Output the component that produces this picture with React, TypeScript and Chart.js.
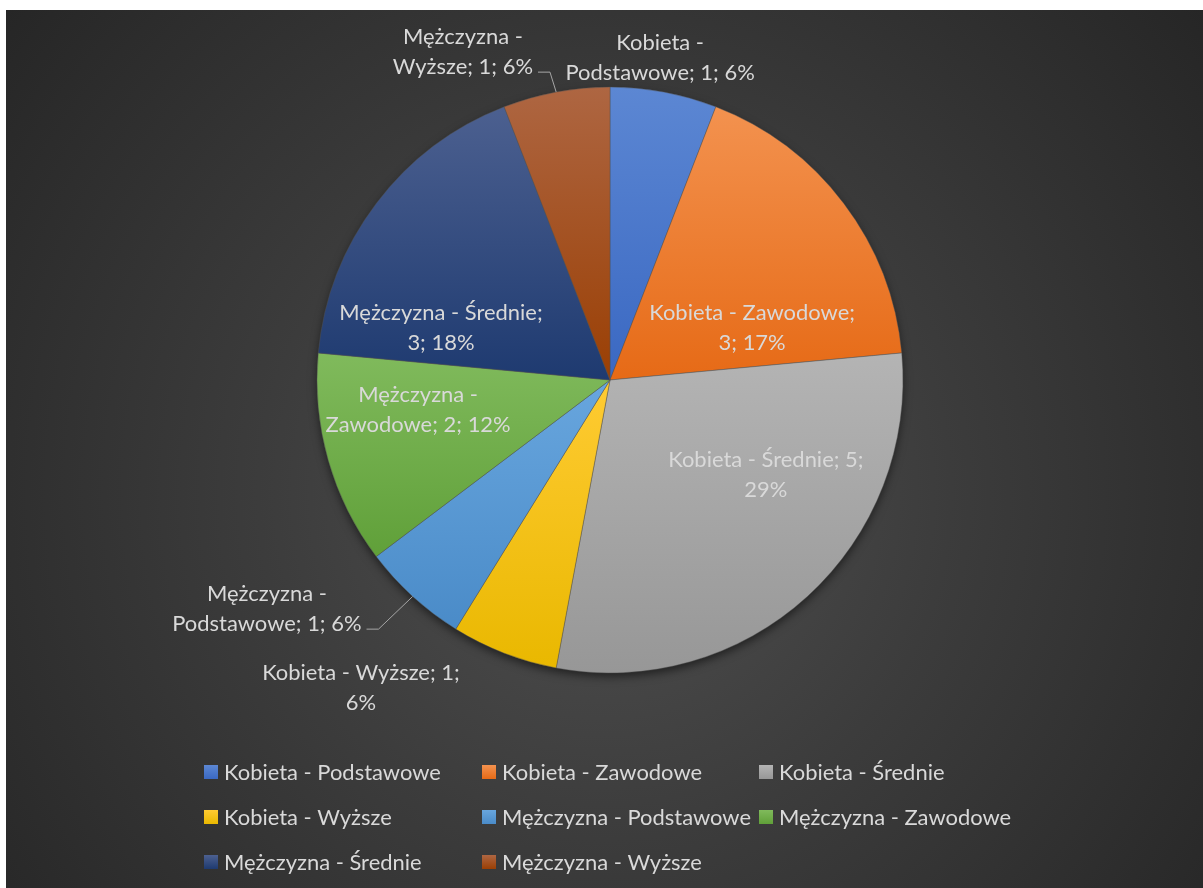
import React, { useEffect, useRef } from "react";
import { Chart, registerables } from "chart.js";

Chart.register(...registerables);

// ---------- data ----------
const categories = [
  "Kobieta - Podstawowe",
  "Kobieta - Zawodowe",
  "Kobieta - Średnie",
  "Kobieta - Wyższe",
  "Mężczyzna - Podstawowe",
  "Mężczyzna - Zawodowe",
  "Mężczyzna - Średnie",
  "Mężczyzna - Wyższe",
];
const counts = [1, 3, 5, 1, 1, 2, 3, 1];
const percents = [6, 17, 29, 6, 6, 12, 18, 6];

// ---------- styles / layout ----------
const W = 1197;
const H = 878;
const RADIUS = 293;
const FONT_FAMILY = "Lato, 'Open Sans', sans-serif";
const TEXT_COLOR = "#d9d9d9";
const LINE_H = 30;
const REF_TEXT = "Kobieta - Podstawowe";
const REF_TEXT_WIDTH = 217;

const topColors = ["#5c87d3", "#f3924f", "#b4b4b4", "#ffcb33", "#68a6de", "#80ba5c", "#4c6090", "#ae6642"];
const bottomColors = ["#3a68c2", "#e66a16", "#979797", "#e9b800", "#4a8bc8", "#60a039", "#1e3a70", "#9a3f04"];

// label block centre relative to pie centre, in units of radius
const labelOffsets: [number, number][] = [
  [0.171, -1.099],
  [0.485, -0.177],
  [0.532, 0.324],
  [-0.85, 1.051],
  [-1.171, 0.782],
  [-0.655, 0.102],
  [-0.577, -0.177],
  [-0.502, -1.119],
];
const firstLineWords = [2, 3, 4, 4, 2, 2, 3, 2];
const hasLeader = [false, false, false, false, true, false, false, true];

const legendCols = [198, 476, 753];
const legendRows = [762, 807, 852];
const LEGEND_BOX = 14;

let fontSizeCache = 0;
function fontSize(ctx: CanvasRenderingContext2D) {
  if (fontSizeCache) return fontSizeCache;
  ctx.save();
  ctx.font = `100px ${FONT_FAMILY}`;
  const w = ctx.measureText(REF_TEXT).width;
  ctx.restore();
  fontSizeCache = (100 * REF_TEXT_WIDTH) / w;
  return fontSizeCache;
}

function sliceGradient(chart: any, i: number) {
  const area = chart.chartArea;
  if (!area) return topColors[i];
  const cy = (area.top + area.bottom) / 2;
  const total = counts.reduce((a, b) => a + b, 0);
  let before = 0;
  for (let j = 0; j < i; j++) before += counts[j];
  const a0 = -Math.PI / 2 + (before / total) * Math.PI * 2;
  const a1 = a0 + (counts[i] / total) * Math.PI * 2;
  const ys = [cy, cy + RADIUS * Math.sin(a0), cy + RADIUS * Math.sin(a1)];
  const inRange = (a: number) => {
    for (let k = -2; k <= 2; k++) {
      const t = a + k * Math.PI * 2;
      if (t >= a0 && t <= a1) return true;
    }
    return false;
  };
  if (inRange(Math.PI / 2)) ys.push(cy + RADIUS);
  if (inRange(-Math.PI / 2)) ys.push(cy - RADIUS);
  const minY = Math.min(...ys);
  const maxY = Math.max(...ys);
  const g = chart.ctx.createLinearGradient(0, minY, 0, maxY);
  g.addColorStop(0, topColors[i]);
  g.addColorStop(1, bottomColors[i]);
  return g;
}

const shadowPlugin = {
  id: "pieShadow",
  beforeDatasetsDraw(chart: any) {
    const meta = chart.getDatasetMeta(0);
    const arc = meta.data[0];
    if (!arc) return;
    const { x, y, outerRadius } = arc.getProps(["x", "y", "outerRadius"], true);
    const ctx = chart.ctx;
    ctx.save();
    ctx.shadowColor = "rgba(0,0,0,0.55)";
    ctx.shadowBlur = 10;
    ctx.shadowOffsetY = 4;
    ctx.fillStyle = "#555555";
    ctx.beginPath();
    ctx.arc(x, y, outerRadius - 0.5, 0, Math.PI * 2);
    ctx.fill();
    ctx.restore();
  },
};

const labelPlugin = {
  id: "sliceLabels",
  afterDatasetsDraw(chart: any) {
    const ctx: CanvasRenderingContext2D = chart.ctx;
    const meta = chart.getDatasetMeta(0);
    const fs = fontSize(ctx);
    ctx.save();
    ctx.font = `${fs}px ${FONT_FAMILY}`;
    ctx.fillStyle = TEXT_COLOR;
    ctx.textAlign = "center";
    ctx.textBaseline = "middle";
    meta.data.forEach((arc: any, i: number) => {
      const { x, y, outerRadius, startAngle, endAngle } = arc.getProps(
        ["x", "y", "outerRadius", "startAngle", "endAngle"],
        true
      );
      const text = `${categories[i]}; ${counts[i]}; ${percents[i]}%`;
      const words = text.split(" ");
      const lines = [
        words.slice(0, firstLineWords[i]).join(" "),
        words.slice(firstLineWords[i]).join(" "),
      ];
      const cx = x + labelOffsets[i][0] * outerRadius;
      const cy = y + labelOffsets[i][1] * outerRadius;
      lines.forEach((l, k) => {
        ctx.fillText(l, cx, cy + (k - (lines.length - 1) / 2) * LINE_H);
      });
      if (hasLeader[i]) {
        const mid = (startAngle + endAngle) / 2;
        const px = x + outerRadius * Math.cos(mid);
        const py = y + outerRadius * Math.sin(mid);
        const w2 = ctx.measureText(lines[1]).width;
        const sx = cx + w2 / 2 + 5;
        const sy = cy + LINE_H / 2 + 5;
        ctx.save();
        ctx.strokeStyle = "#a6a6a6";
        ctx.lineWidth = 1;
        ctx.beginPath();
        ctx.moveTo(sx, sy);
        ctx.lineTo(sx + 12, sy);
        ctx.lineTo(px, py);
        ctx.stroke();
        ctx.restore();
      }
    });
    ctx.restore();
  },
};

const legendPlugin = {
  id: "gridLegend",
  afterDraw(chart: any) {
    const ctx: CanvasRenderingContext2D = chart.ctx;
    const fs = fontSize(ctx);
    ctx.save();
    ctx.font = `${fs}px ${FONT_FAMILY}`;
    ctx.textAlign = "left";
    ctx.textBaseline = "middle";
    categories.forEach((name, i) => {
      const col = i % legendCols.length;
      const row = Math.floor(i / legendCols.length);
      const bx = legendCols[col];
      const by = legendRows[row];
      const g = ctx.createLinearGradient(0, by - LEGEND_BOX / 2, 0, by + LEGEND_BOX / 2);
      g.addColorStop(0, topColors[i]);
      g.addColorStop(1, bottomColors[i]);
      ctx.fillStyle = g;
      ctx.fillRect(bx, by - LEGEND_BOX / 2, LEGEND_BOX, LEGEND_BOX);
      ctx.fillStyle = TEXT_COLOR;
      ctx.fillText(name, bx + LEGEND_BOX + 6, by + 1);
    });
    ctx.restore();
  },
};

export default function App() {
  const canvasRef = useRef<HTMLCanvasElement | null>(null);

  useEffect(() => {
    if (!canvasRef.current) return;
    const chart = new Chart(canvasRef.current, {
      type: "pie",
      data: {
        labels: categories,
        datasets: [
          {
            data: counts,
            backgroundColor: (c: any) => sliceGradient(c.chart, c.dataIndex),
            borderColor: "rgba(80,80,80,0.6)",
            borderWidth: 0.75,
            radius: RADIUS,
          } as any,
        ],
      },
      options: {
        responsive: false,
        animation: false,
        layout: { padding: { left: 11, right: 0, top: 0, bottom: 138 } },
        plugins: {
          legend: { display: false },
          tooltip: { enabled: false },
          title: { display: false },
        },
      },
      plugins: [shadowPlugin, labelPlugin, legendPlugin],
    });
    return () => chart.destroy();
  }, []);

  return (
    <div
      style={{
        position: "absolute",
        left: 6,
        top: 10,
        width: W,
        height: H,
        background:
          "radial-gradient(circle farthest-corner at 50% 55%, #505050 0%, #3c3c3c 45%, #262626 100%)",
      }}
    >
      <canvas ref={canvasRef} width={W} height={H} style={{ display: "block" }} />
    </div>
  );
}
